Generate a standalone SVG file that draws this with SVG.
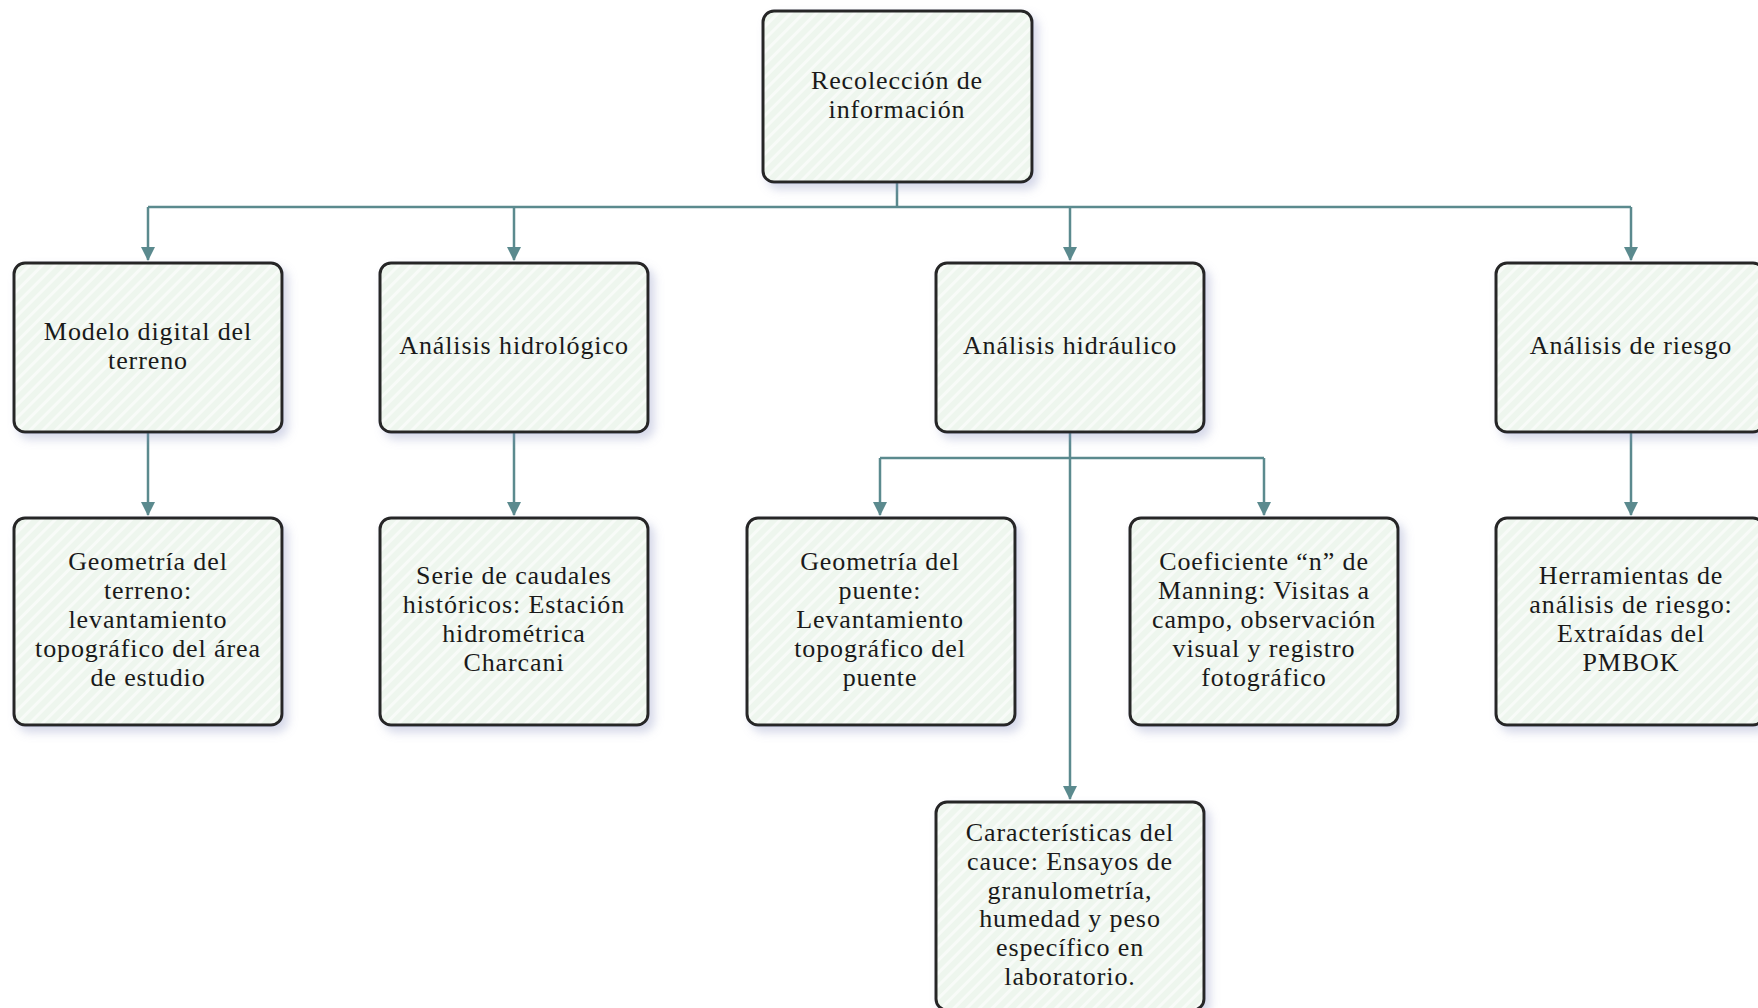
<svg xmlns="http://www.w3.org/2000/svg" width="1758" height="1008" viewBox="0 0 1758 1008">
<defs>
<pattern id="stripes" width="9" height="9" patternUnits="userSpaceOnUse" patternTransform="rotate(45)">
<rect width="9" height="9" fill="#eef6ee"/>
<rect x="0" y="0" width="3" height="9" fill="#f8fbf8"/>
</pattern>
<filter id="sh" x="-10%" y="-10%" width="125%" height="125%">
<feGaussianBlur in="SourceAlpha" stdDeviation="5"/>
<feOffset dx="5" dy="6" result="b"/>
<feFlood flood-color="#8890c0" flood-opacity="0.35"/>
<feComposite in2="b" operator="in"/>
<feMerge><feMergeNode/><feMergeNode in="SourceGraphic"/></feMerge>
</filter>
<marker id="arr" markerWidth="16" markerHeight="16" refX="13" refY="8" orient="auto" markerUnits="userSpaceOnUse">
<path d="M0,1 L14,8 L0,15 Z" fill="#5b8a8e"/>
</marker>
</defs>
<style>
.box{fill:url(#stripes);stroke:#262626;stroke-width:3;filter:url(#sh)}
.t{font-family:"Liberation Serif","Times New Roman",serif;font-size:26px;letter-spacing:0.9px;fill:#1a1a1a;text-anchor:middle}
.c{fill:none;stroke:#5b8a8e;stroke-width:2.5}
</style>
<rect width="1758" height="1008" fill="#ffffff"/>
<g id="connectors">
<path class="c" d="M897,182 V207"/>
<path class="c" d="M148,207 H1631"/>
<path class="c" d="M148,207 V260" marker-end="url(#arr)"/>
<path class="c" d="M514,207 V260" marker-end="url(#arr)"/>
<path class="c" d="M1070,207 V260" marker-end="url(#arr)"/>
<path class="c" d="M1631,207 V260" marker-end="url(#arr)"/>
<path class="c" d="M148,432 V515" marker-end="url(#arr)"/>
<path class="c" d="M514,432 V515" marker-end="url(#arr)"/>
<path class="c" d="M1631,432 V515" marker-end="url(#arr)"/>
<path class="c" d="M1070,432 V799" marker-end="url(#arr)"/>
<path class="c" d="M880,458 H1264"/>
<path class="c" d="M880,458 V515" marker-end="url(#arr)"/>
<path class="c" d="M1264,458 V515" marker-end="url(#arr)"/>
</g>
<g id="n-recoleccion">
<rect class="box" x="763" y="11" width="269" height="171" rx="11"/>
<text class="t"><tspan x="897" y="89">Recolección de</tspan><tspan x="897" y="118">información</tspan></text>
</g>
<g id="n-modelo">
<rect class="box" x="14" y="263" width="268" height="169" rx="11"/>
<text class="t"><tspan x="148" y="340">Modelo digital del</tspan><tspan x="148" y="369">terreno</tspan></text>
</g>
<g id="n-hidrologico">
<rect class="box" x="380" y="263" width="268" height="169" rx="11"/>
<text class="t"><tspan x="514" y="354">Análisis hidrológico</tspan></text>
</g>
<g id="n-hidraulico">
<rect class="box" x="936" y="263" width="268" height="169" rx="11"/>
<text class="t"><tspan x="1070" y="354">Análisis hidráulico</tspan></text>
</g>
<g id="n-riesgo">
<rect class="box" x="1496" y="263" width="268" height="169" rx="11"/>
<text class="t"><tspan x="1631" y="354">Análisis de riesgo</tspan></text>
</g>
<g id="n-geom-terreno">
<rect class="box" x="14" y="518" width="268" height="207" rx="11"/>
<text class="t"><tspan x="148" y="570">Geometría del</tspan><tspan x="148" y="599">terreno:</tspan><tspan x="148" y="628">levantamiento</tspan><tspan x="148" y="657">topográfico del área</tspan><tspan x="148" y="686">de estudio</tspan></text>
</g>
<g id="n-serie">
<rect class="box" x="380" y="518" width="268" height="207" rx="11"/>
<text class="t"><tspan x="514" y="584">Serie de caudales</tspan><tspan x="514" y="613">históricos: Estación</tspan><tspan x="514" y="642">hidrométrica</tspan><tspan x="514" y="671">Charcani</tspan></text>
</g>
<g id="n-geom-puente">
<rect class="box" x="747" y="518" width="268" height="207" rx="11"/>
<text class="t"><tspan x="880" y="570">Geometría del</tspan><tspan x="880" y="599">puente:</tspan><tspan x="880" y="628">Levantamiento</tspan><tspan x="880" y="657">topográfico del</tspan><tspan x="880" y="686">puente</tspan></text>
</g>
<g id="n-coeficiente">
<rect class="box" x="1130" y="518" width="268" height="207" rx="11"/>
<text class="t"><tspan x="1264" y="570">Coeficiente “n” de</tspan><tspan x="1264" y="599">Manning: Visitas a</tspan><tspan x="1264" y="628">campo, observación</tspan><tspan x="1264" y="657">visual y registro</tspan><tspan x="1264" y="686">fotográfico</tspan></text>
</g>
<g id="n-herramientas">
<rect class="box" x="1496" y="518" width="268" height="207" rx="11"/>
<text class="t"><tspan x="1631" y="584">Herramientas de</tspan><tspan x="1631" y="613">análisis de riesgo:</tspan><tspan x="1631" y="642">Extraídas del</tspan><tspan x="1631" y="671">PMBOK</tspan></text>
</g>
<g id="n-cauce">
<rect class="box" x="936" y="802" width="268" height="208" rx="11"/>
<text class="t"><tspan x="1070" y="841">Características del</tspan><tspan x="1070" y="870">cauce: Ensayos de</tspan><tspan x="1070" y="899">granulometría,</tspan><tspan x="1070" y="927">humedad y peso</tspan><tspan x="1070" y="956">específico en</tspan><tspan x="1070" y="985">laboratorio.</tspan></text>
</g>
</svg>
